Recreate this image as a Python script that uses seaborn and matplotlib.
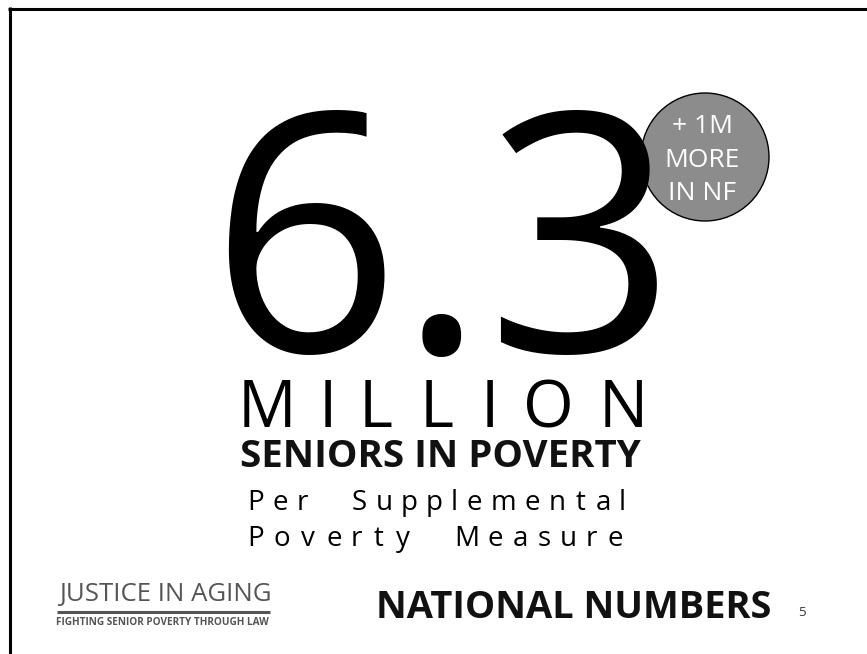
import matplotlib
matplotlib.use("Agg")
import matplotlib.pyplot as plt
from matplotlib.font_manager import FontProperties
from matplotlib.textpath import TextPath
from matplotlib.patches import Circle
import seaborn as sns

# Contenu de la diapositive
big_number = "6.3"
unit_word = "MILLION"
headline = "SENIORS IN POVERTY"
measure_lines = ["Per Supplemental", "Poverty Measure"]
badge_lines = ["+ 1M", "MORE", "IN NF"]
footer_title = "NATIONAL NUMBERS"
page_number = "5"
logo_lines = ["JUSTICE IN AGING", "FIGHTING SENIOR POVERTY THROUGH LAW"]

sns.set_theme(style="white")
FAMILY = ["Open Sans", "DejaVu Sans"]
plt.rcParams["font.family"] = FAMILY

W, H = 867, 654
fig = plt.figure(figsize=(W / 100, H / 100), dpi=100)
ax = fig.add_axes([0, 0, 1, 1])
ax.set_xlim(0, W)
ax.set_ylim(H, 0)
ax.set_axis_off()


def ink(s, size, weight="normal"):
    # etendue horizontale de l'encre (en pixels) depuis l'origine du texte
    px = size * 100 / 72
    prop = FontProperties(family=FAMILY, weight=weight)
    ext = TextPath((0, 0), s, size=px, prop=prop).get_extents()
    pad = 0.5 + 0.0045 * px  # le rendu Agg deborde un peu du contour
    return ext.x0 - pad, ext.x1 + pad


def spread(text, x0, x1, y, size, weight="normal", word_k=4.0, **kw):
    # lettres espacées pour remplir x0 -> x1 (ecart constant entre lettres)
    words = text.split(" ")
    boxes = [[ink(c, size, weight) for c in w] for w in words]
    total = sum(b[1] - b[0] for w in boxes for b in w)
    n_gaps = sum(len(w) - 1 for w in words) + word_k * (len(words) - 1)
    gap = (x1 - x0 - total) / n_gaps if n_gaps else 0
    x = x0
    for word, bs in zip(words, boxes):
        for c, (a, b) in zip(word, bs):
            ax.text(x - a, y, c, ha="left", va="baseline", fontsize=size,
                    fontweight=weight, **kw)
            x += (b - a) + gap
        x += gap * (word_k - 1)


def fitted(text, x0, x1, y, weight="normal", **kw):
    # taille de police choisie pour que le texte couvre x0 -> x1
    a, b = ink(text, 100, weight)
    size = 100 * (x1 - x0) / (b - a)
    ax.text(x0 - a * size / 100, y, text, ha="left", va="baseline",
            fontsize=size, fontweight=weight, **kw)


# cadre de la diapo (haut et gauche)
ax.plot([8, W], [8.5, 8.5], color="black", lw=2.2, solid_capstyle="butt")
ax.plot([10, 10], [7, H], color="black", lw=2.2, solid_capstyle="butt")

# pastille grise
ax.add_patch(Circle((705, 157), 64, facecolor="#8c8c8c", edgecolor="black",
                    lw=1.0, zorder=1))
for line, yb in zip(badge_lines, [133, 167, 200]):
    ax.text(702, yb, line, ha="center", va="baseline", color="white",
            fontsize=19, zorder=3)

# grand chiffre
spread(big_number, 226, 658, 352, 240, color="black", zorder=2)

spread(unit_word, 243, 642, 427, 47, color="black")
fitted(headline, 241, 639, 467, weight="bold", color="#111111")
spread(measure_lines[0], 249, 624, 510, 20, color="black")
spread(measure_lines[1], 249, 622, 546, 20, color="black")

# pied de page
fitted(footer_title, 379, 771, 618, weight="bold", color="#111111")
ax.text(798, 616, page_number, ha="left", va="baseline", fontsize=9.5,
        color="#333333")

# logo
fitted(logo_lines[0], 57, 270, 601, color="#555555")
ax.plot([57, 270], [611.5, 611.5], color="#555555", lw=2.2,
        solid_capstyle="butt")
fitted(logo_lines[1], 57, 270, 625, weight="bold", color="#555555")

fig.savefig("out.png", dpi=100, facecolor="white")
